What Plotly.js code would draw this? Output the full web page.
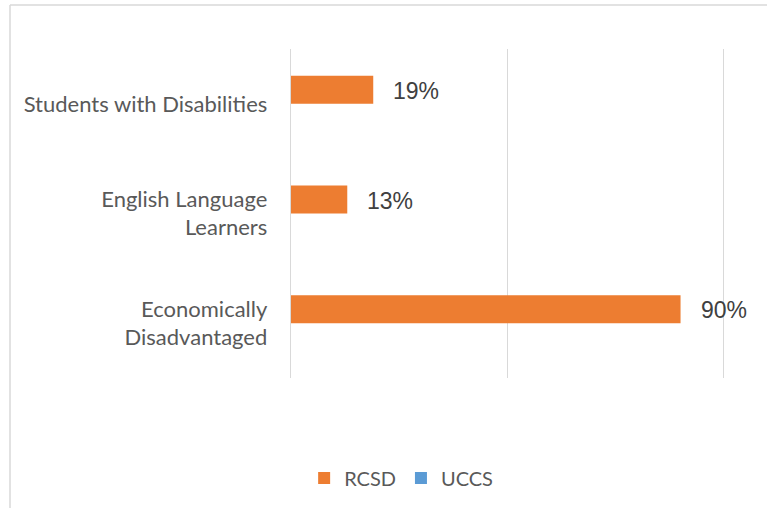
<!DOCTYPE html>
<html>
<head>
<meta charset="utf-8">
<script src="https://cdn.plot.ly/plotly-3.0.1.min.js"></script>
<style>
  html, body { margin: 0; padding: 0; background: #fff; }
  #chart { width: 767px; height: 508px; }
</style>
</head>
<body>
<div id="chart"></div>
<script>
const categories = ["Students with Disabilities", "English Language<br>Learners", "Economically<br>Disadvantaged"];
const rcsdValues = [0.19, 0.13, 0.90];
const uccsValues = [null, null, null];
const rcsdLabels = ["19%", "13%", "90%"];
const seriesNames = ["RCSD", "UCCS"];

const W = 767, H = 508;
const L = 291, R = 41, T = 49, B = 130;
const pw = W - L - R, ph = H - T - B;
const px = v => (v - L) / pw;
const py = v => (H - B - v) / ph;

const traces = [
  {
    type: 'bar', orientation: 'h', name: seriesNames[0],
    x: rcsdValues, y: categories,
    marker: { color: '#ED7D31' }, hoverinfo: 'none'
  },
  {
    type: 'bar', orientation: 'h', name: seriesNames[1],
    x: uccsValues, y: categories,
    marker: { color: '#5B9BD5' }, hoverinfo: 'none'
  }
];

const annotations = rcsdValues.map((v, i) => ({
  x: v, y: categories[i], xref: 'x', yref: 'y',
  text: rcsdLabels[i], showarrow: false,
  xanchor: 'left', yanchor: 'middle', xshift: 18, yshift: 13,
  font: { family: 'Liberation Sans, Arial, sans-serif', size: 23, color: '#404040' }
}));

const layout = {
  width: W, height: H,
  margin: { l: L, r: R, t: T, b: B, pad: 0 },
  paper_bgcolor: '#fff', plot_bgcolor: '#fff',
  barmode: 'group', bargap: 0.49, bargroupgap: 0,
  showlegend: true,
  legend: {
    orientation: 'h', xref: 'container', yref: 'container',
    x: 0.523, y: 0.059, xanchor: 'center', yanchor: 'middle',
    font: { family: 'Lato, Carlito, sans-serif', size: 20, color: '#595959' },
    itemwidth: 30, traceorder: 'normal'
  },
  xaxis: {
    range: [0, 1.005], dtick: 0.5, tick0: 0,
    showgrid: true, gridcolor: '#d9d9d9', gridwidth: 1.3,
    zeroline: false, showticklabels: false, ticks: '', showline: false, fixedrange: true
  },
  yaxis: {
    type: 'category', autorange: 'reversed',
    showgrid: false, zeroline: false, ticks: '',
    showline: true, linecolor: '#d9d9d9', linewidth: 1.3,
    ticklabelstandoff: 18,
    tickfont: { family: 'Lato, Carlito, sans-serif', size: 22, color: '#595959' },
    fixedrange: true
  },
  annotations: annotations,
  shapes: [
    { type: 'line', xref: 'paper', yref: 'paper', x0: px(10), x1: px(10), y0: py(5), y1: py(520), line: { color: '#d9d9d9', width: 1.5 } },
    { type: 'line', xref: 'paper', yref: 'paper', x0: px(10), x1: px(780), y0: py(5), y1: py(5), line: { color: '#d9d9d9', width: 1.5 } }
  ]
};

Plotly.newPlot('chart', traces, layout, { displayModeBar: false, staticPlot: true });
</script>
</body>
</html>
